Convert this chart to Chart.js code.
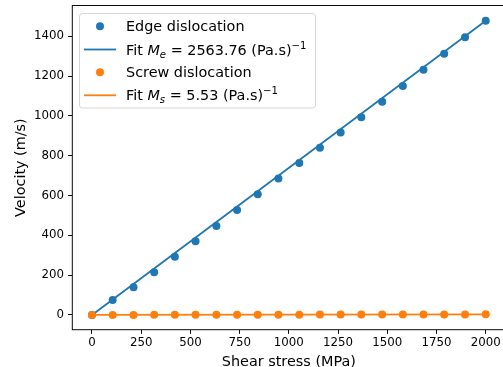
<!DOCTYPE html>
<html><head><meta charset="utf-8">
<script src="https://cdn.jsdelivr.net/npm/chart.js@4.4.1/dist/chart.umd.min.js"></script>
<style>html,body{margin:0;padding:0;background:#fff;overflow:hidden;}#wrap{position:relative;width:540px;height:372px;}</style>
</head><body><div id="wrap"><canvas id="c" width="540" height="372"></canvas></div>
<script>
// ---- data ----
const stress = [0, 105, 211, 316, 421, 526, 632, 737, 842, 947, 1053, 1158, 1263, 1368, 1474, 1579, 1684, 1789, 1895, 2000];
const edgeVelocity = [0, 75, 139, 215, 293, 371, 447, 528, 607, 686, 763, 840, 917, 994, 1071, 1151, 1232, 1312, 1396, 1478];
const screwVelocity = [0, 0.2, 0.3, 0.5, 0.7, 0.8, 1.0, 1.2, 1.3, 1.5, 1.7, 1.8, 2.0, 2.2, 2.3, 2.5, 2.7, 2.8, 3.0, 3.2];
const fitStress = [0, 2000];
const edgeFit = [0, 1478];
const screwFit = [0, 3.2];
const xTicks = [0, 250, 500, 750, 1000, 1250, 1500, 1750, 2000];
const yTicks = [0, 200, 400, 600, 800, 1000, 1200, 1400];
const xTitle = 'Shear stress (MPa)';
const yTitle = 'Velocity (m/s)';
const edgeLabel = 'Edge dislocation';
const screwLabel = 'Screw dislocation';
const edgeFitValue = '2563.76';
const screwFitValue = '5.53';

const BLUE = '#1f77b4', ORANGE = '#ff7f0e';
const FONT = 'DejaVu Sans';
Chart.defaults.font.family = FONT;
Chart.defaults.color = '#000';

const pts = (xs, ys) => xs.map((x, i) => ({x, y: ys[i]}));

const spinePlugin = {
  id: 'spines',
  afterDatasetsDraw(chart) {
    const {ctx, chartArea: a} = chart;
    ctx.save();
    ctx.strokeStyle = '#000';
    ctx.lineWidth = 0.96;
    ctx.strokeRect(a.left, a.top, a.right - a.left, a.bottom - a.top);
    ctx.restore();
  }
};

const legendRows = [
  {kind: 'marker', color: BLUE, parts: [{t: edgeLabel}]},
  {kind: 'line', color: BLUE, parts: [{t: 'Fit '}, {t: 'M', it: true}, {t: 'e', it: true, s: 0.7, dy: 3}, {t: ' = ' + edgeFitValue + ' (Pa.s)'}, {t: '\u22121', s: 0.7, dy: -6}]},
  {kind: 'marker', color: ORANGE, parts: [{t: screwLabel}]},
  {kind: 'line', color: ORANGE, parts: [{t: 'Fit '}, {t: 'M', it: true}, {t: 's', it: true, s: 0.7, dy: 3}, {t: ' = ' + screwFitValue + ' (Pa.s)'}, {t: '\u22121', s: 0.7, dy: -6}]}
];

const legendPlugin = {
  id: 'mplLegend',
  afterDraw(chart) {
    const ctx = chart.ctx;
    ctx.save();
    ctx.beginPath();
    ctx.roundRect(79.5, 13.5, 236, 94.5, 3);
    ctx.fillStyle = 'rgba(255,255,255,0.8)';
    ctx.fill();
    ctx.strokeStyle = 'rgba(204,204,204,0.8)';
    ctx.lineWidth = 1;
    ctx.stroke();
    const baselines = [31.3, 54.5, 77.3, 100.3];
    const fs = 14.4;
    legendRows.forEach((row, i) => {
      const b = baselines[i];
      const cy = b - 5;
      if (row.kind === 'marker') {
        ctx.beginPath();
        ctx.arc(100, cy, 4, 0, Math.PI * 2);
        ctx.fillStyle = row.color;
        ctx.fill();
      } else {
        ctx.beginPath();
        ctx.moveTo(84, cy);
        ctx.lineTo(116, cy);
        ctx.strokeStyle = row.color;
        ctx.lineWidth = 1.8;
        ctx.stroke();
      }
      let x = 126;
      ctx.fillStyle = '#000';
      ctx.textBaseline = 'alphabetic';
      ctx.textAlign = 'left';
      row.parts.forEach(p => {
        const size = fs * (p.s || 1);
        ctx.font = (p.it ? 'italic ' : '') + size + 'px "' + FONT + '"';
        ctx.fillText(p.t, x, b + (p.dy || 0));
        x += ctx.measureText(p.t).width;
      });
    });
    ctx.restore();
  }
};

new Chart(document.getElementById('c'), {
  type: 'scatter',
  data: {
    datasets: [
      {label: edgeLabel, data: pts(stress, edgeVelocity), showLine: false, pointRadius: 4, pointHoverRadius: 4, pointBorderWidth: 0, pointBackgroundColor: BLUE, backgroundColor: BLUE, order: 4},
      {label: 'Fit edge', data: pts(fitStress, edgeFit), showLine: true, pointRadius: 0, borderColor: BLUE, borderWidth: 1.8, order: 3},
      {label: screwLabel, data: pts(stress, screwVelocity), showLine: false, pointRadius: 4, pointHoverRadius: 4, pointBorderWidth: 0, pointBackgroundColor: ORANGE, backgroundColor: ORANGE, order: 2},
      {label: 'Fit screw', data: pts(fitStress, screwFit), showLine: true, pointRadius: 0, borderColor: ORANGE, borderWidth: 1.8, order: 1}
    ]
  },
  options: {
    responsive: false,
    animation: false,
    devicePixelRatio: 1,
    layout: {padding: {left: 0, top: 5.5, right: 34.6, bottom: 0}},
    plugins: {legend: {display: false}, tooltip: {enabled: false}},
    scales: {
      x: {
        type: 'linear', min: -100, max: 2100,
        afterBuildTicks: s => { s.ticks = xTicks.map(v => ({value: v})); },
        afterFit: s => { s.height = 372 - 329.7; s.paddingLeft = 0; s.paddingRight = 0; },
        border: {display: false},
        grid: {drawOnChartArea: false, drawTicks: true, tickLength: 4.2, tickColor: '#000', tickWidth: 0.96},
        ticks: {padding: 2, maxRotation: 0, autoSkip: false, font: {size: 11.8}, color: '#000', callback: v => String(v)},
        title: {display: true, text: xTitle, font: {size: 14.4, lineHeight: 1}, color: '#000', padding: {top: 0, bottom: 2.8}}
      },
      y: {
        type: 'linear', min: -74, max: 1555,
        afterBuildTicks: s => { s.ticks = yTicks.map(v => ({value: v})); },
        afterFit: s => { s.width = 72.3; s.paddingTop = 0; s.paddingBottom = 0; },
        border: {display: false},
        grid: {drawOnChartArea: false, drawTicks: true, tickLength: 4.2, tickColor: '#000', tickWidth: 0.96},
        ticks: {padding: 4.2, autoSkip: false, font: {size: 11.8}, color: '#000', callback: v => String(v)},
        title: {display: true, text: yTitle, font: {size: 14.4, lineHeight: 1}, color: '#000', padding: {top: 13.8, bottom: 0}}
      }
    }
  },
  plugins: [spinePlugin, legendPlugin]
});
</script>
</body></html>
